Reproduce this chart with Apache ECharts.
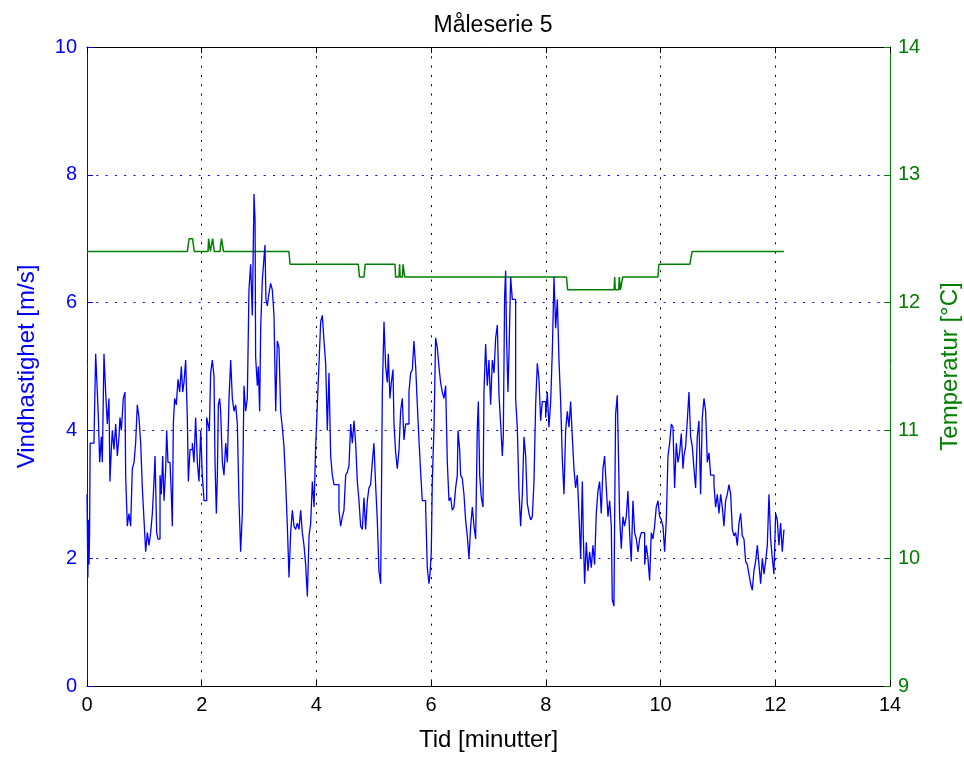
<!DOCTYPE html>
<html>
<head>
<meta charset="utf-8">
<script src="https://cdn.jsdelivr.net/npm/echarts@6/dist/echarts.min.js"></script>
<style>
html,body{margin:0;padding:0;background:#fff;}
#chart{width:964px;height:757px;}
</style>
</head>
<body>
<div id="chart"></div>
<script>
const titleText = "Måleserie 5";
const xName = "Tid [minutter]";
const leftName = "Vindhastighet [m/s]";
const rightName = "Temperatur [°C]";
const xTicks = [0, 14, 2];
const leftTicks = [0, 10, 2];
const rightTicks = [9, 14, 1];

// Wind speed [minutes, m/s]
const windSpeed = [
[0.00,3.0],[0.015,1.7],[0.025,2.6],[0.035,1.9],[0.045,2.4],[0.055,3.8],[0.064,3.8],[0.122,3.85],[0.151,5.2],[0.18,4.6],[0.198,4.2],[0.221,3.5],[0.25,3.9],[0.267,3.5],[0.296,5.2],[0.325,4.6],[0.354,4.1],[0.383,4.5],[0.40,3.2],[0.424,3.7],[0.442,4.0],[0.47,3.7],[0.50,4.1],[0.529,3.6],[0.558,3.9],[0.575,4.2],[0.599,4.0],[0.633,4.5],[0.662,4.6],[0.674,3.3],[0.703,2.5],[0.732,2.7],[0.761,2.5],[0.79,3.4],[0.82,3.5],[0.848,3.8],[0.877,4.4],[0.906,4.2],[0.936,3.8],[0.965,3.1],[0.994,2.6],[1.023,2.1],[1.052,2.4],[1.081,2.2],[1.11,2.4],[1.139,2.7],[1.168,3.2],[1.186,3.6],[1.215,2.4],[1.238,2.3],[1.273,3.3],[1.296,3.0],[1.319,3.6],[1.343,2.9],[1.372,3.4],[1.389,4.0],[1.412,3.5],[1.447,3.5],[1.47,3.0],[1.488,2.5],[1.505,4.1],[1.528,4.5],[1.557,4.4],[1.587,4.8],[1.616,4.6],[1.645,5.0],[1.668,4.6],[1.691,4.75],[1.72,5.1],[1.749,4.2],[1.767,3.2],[1.796,3.7],[1.836,3.8],[1.865,3.5],[1.894,4.2],[1.924,3.5],[1.953,3.2],[1.982,4.0],[2.01,3.3],
[2.04,2.9],[2.087,4.2],[2.11,4.1],[2.133,4.0],[2.156,4.9],[2.185,5.1],[2.214,4.85],[2.232,3.5],[2.255,2.7],[2.273,3.3],[2.29,4.4],[2.313,4.5],[2.33,4.3],[2.36,3.5],[2.388,3.3],[2.418,3.8],[2.447,3.5],[2.476,4.5],[2.505,5.1],[2.534,4.5],[2.563,4.3],[2.592,4.4],[2.621,4.1],[2.65,2.9],[2.679,2.1],[2.708,2.7],[2.737,4.7],[2.766,4.3],[2.795,4.5],[2.824,6.2],[2.853,6.6],[2.882,5.8],[2.912,7.7],[2.93,7.3],[2.94,5.15],[2.97,4.7],[2.987,5.0],[3.01,4.3],[3.028,5.6],[3.057,6.35],[3.086,6.7],[3.103,6.9],[3.12,6.05],[3.144,5.95],[3.173,6.15],[3.202,6.3],[3.231,6.2],[3.26,5.8],[3.29,4.3],[3.318,5.4],[3.347,5.3],[3.376,4.3],[3.405,4.05],[3.434,3.75],[3.463,3.2],[3.493,2.5],[3.522,1.7],[3.551,2.4],[3.58,2.75],[3.609,2.5],[3.638,2.45],[3.667,2.55],[3.696,2.45],[3.725,2.75],[3.754,2.4],[3.783,2.2],[3.812,1.9],[3.842,1.4],[3.871,2.35],[3.9,2.55],[3.929,3.2],[3.958,2.8],[3.987,3.75],[4.016,4.4],[4.045,5.05],[4.074,5.7],[4.103,5.8],
[4.132,5.4],[4.161,5.05],[4.19,4.0],[4.219,4.9],[4.248,3.6],[4.277,3.3],[4.306,3.15],[4.353,3.15],[4.393,2.75],[4.422,2.5],[4.452,2.65],[4.48,2.75],[4.51,3.3],[4.539,3.35],[4.568,3.45],[4.597,4.1],[4.626,3.8],[4.655,4.15],[4.684,3.8],[4.713,3.2],[4.742,2.9],[4.771,2.5],[4.8,2.45],[4.829,2.95],[4.858,2.45],[4.887,2.9],[4.916,3.1],[4.945,3.15],[4.974,3.5],[5.003,3.8],[5.032,3.15],[5.061,2.6],[5.09,1.8],[5.12,1.6],[5.149,4.6],[5.178,5.7],[5.207,5.0],[5.236,4.75],[5.253,5.2],[5.282,4.5],[5.306,4.75],[5.335,4.95],[5.352,4.1],[5.381,3.65],[5.41,3.4],[5.44,3.7],[5.468,4.3],[5.497,4.5],[5.526,3.85],[5.555,4.1],[5.584,4.1],[5.613,4.6],[5.643,4.9],[5.672,4.95],[5.70,5.4],[5.73,5.0],[5.759,4.4],[5.788,3.85],[5.817,3.35],[5.846,2.9],[5.875,2.9],[5.904,2.8],[5.933,1.85],[5.962,1.6],[5.98,1.75],[6.003,2.1],[6.02,3.2],[6.05,4.05],[6.078,5.45],[6.107,5.3],[6.136,5.0],[6.165,4.75],[6.194,4.6],
[6.224,4.5],[6.253,4.7],[6.282,3.5],[6.311,2.9],[6.34,2.95],[6.369,2.75],[6.398,2.8],[6.427,3.1],[6.456,3.3],[6.468,4.0],[6.497,3.7],[6.514,3.3],[6.543,3.25],[6.572,3.0],[6.601,2.6],[6.63,2.35],[6.66,2.0],[6.689,2.5],[6.718,2.8],[6.747,2.5],[6.776,2.3],[6.805,4.05],[6.823,4.45],[6.846,3.3],[6.875,2.95],[6.904,2.8],[6.921,4.6],[6.95,5.35],[6.979,4.7],[7.008,5.1],[7.037,4.4],[7.067,5.1],[7.096,4.9],[7.125,5.45],[7.154,5.65],[7.183,4.55],[7.212,4.1],[7.241,3.6],[7.258,3.9],[7.281,6.1],[7.299,6.5],[7.316,5.4],[7.339,4.6],[7.357,5.2],[7.386,6.4],[7.415,6.05],[7.444,6.05],[7.473,4.5],[7.502,4.05],[7.531,3.05],[7.56,2.5],[7.59,3.0],[7.619,3.9],[7.648,3.6],[7.677,2.85],[7.706,2.7],[7.735,2.6],[7.764,2.65],[7.793,3.2],[7.822,4.4],[7.851,5.05],[7.88,4.8],[7.909,4.15],[7.938,4.45],[7.967,4.45],[7.996,4.2],[8.025,4.6],[8.054,4.05],[8.084,4.45],[8.113,5.25],[8.142,6.4],[8.171,5.6],[8.20,6.05],[8.229,5.1],[8.258,4.45],[8.287,3.55],
[8.316,3.0],[8.345,4.0],[8.374,4.3],[8.403,4.05],[8.432,4.45],[8.461,3.9],[8.49,3.4],[8.519,3.1],[8.548,3.3],[8.577,2.7],[8.607,2.0],[8.636,3.2],[8.653,2.35],[8.676,1.6],[8.705,2.25],[8.734,1.8],[8.763,2.1],[8.792,1.85],[8.821,2.2],[8.85,1.9],[8.879,2.7],[8.908,3.05],[8.937,3.2],[8.966,2.7],[8.995,3.4],[9.024,3.6],[9.054,3.1],[9.083,2.65],[9.112,2.9],[9.141,2.5],[9.158,1.35],[9.187,1.25],[9.199,2.6],[9.216,4.25],[9.245,4.55],[9.263,3.75],[9.286,2.65],[9.315,2.15],[9.344,2.65],[9.373,2.5],[9.402,2.65],[9.431,3.05],[9.46,2.4],[9.489,1.95],[9.518,2.9],[9.548,2.4],[9.577,2.3],[9.606,2.1],[9.635,2.3],[9.664,2.4],[9.693,2.4],[9.722,1.9],[9.751,2.2],[9.78,2.0],[9.809,1.65],[9.838,2.4],[9.867,2.3],[9.896,2.5],[9.925,2.8],[9.955,2.9],[9.984,2.65],[10.013,2.6],[10.042,2.5],[10.071,2.1],[10.10,2.6],[10.129,3.6],[10.158,3.8],[10.187,4.1],[10.216,4.05],[10.245,3.1],[10.274,3.8],[10.303,3.5],[10.332,3.65],[10.361,3.95],[10.391,3.4],
[10.408,3.6],[10.437,3.75],[10.466,4.15],[10.495,4.6],[10.524,3.9],[10.553,3.75],[10.582,3.4],[10.611,3.1],[10.64,3.9],[10.669,4.15],[10.698,3.0],[10.727,4.2],[10.757,4.5],[10.786,4.3],[10.815,3.5],[10.844,3.65],[10.873,3.3],[10.902,3.3],[10.931,3.15],[10.96,2.8],[10.989,3.0],[11.018,2.7],[11.047,3.0],[11.076,2.8],[11.105,2.5],[11.134,2.9],[11.163,3.0],[11.192,3.15],[11.222,3.0],[11.251,2.45],[11.28,2.35],[11.309,2.4],[11.338,2.2],[11.367,2.55],[11.396,2.7],[11.425,2.35],[11.454,2.3],[11.483,1.95],[11.512,1.9],[11.541,1.75],[11.57,1.6],[11.599,1.5],[11.628,1.8],[11.657,1.95],[11.687,2.2],[11.716,1.9],[11.745,1.6],[11.774,2.0],[11.803,1.75],[11.832,1.95],[11.861,2.2],[11.89,3.0],[11.919,2.3],[11.948,2.0],[11.977,1.75],[12.006,2.7],[12.035,2.6],[12.064,2.2],[12.093,2.55],[12.122,2.1],[12.151,2.45]
];

// Temperature [minutes, °C]
const temperature = [
[0,12.4],[1.75,12.4],[1.78,12.5],[1.84,12.5],[1.87,12.4],
[2.11,12.4],[2.12,12.5],[2.14,12.5],[2.15,12.4],[2.18,12.4],[2.19,12.5],[2.21,12.5],[2.22,12.4],
[2.32,12.4],[2.33,12.45],[2.34,12.45],[2.345,12.5],[2.37,12.5],[2.38,12.4],
[3.52,12.4],[3.54,12.3],
[4.73,12.3],[4.75,12.2],[4.83,12.2],[4.85,12.3],
[5.37,12.3],[5.38,12.2],[5.44,12.2],[5.45,12.3],[5.46,12.2],[5.50,12.2],[5.51,12.3],[5.53,12.3],[5.54,12.2],
[8.36,12.2],[8.38,12.1],
[9.19,12.1],[9.20,12.2],[9.21,12.1],[9.27,12.1],[9.28,12.2],[9.30,12.1],[9.33,12.1],[9.34,12.2],
[9.955,12.2],[9.97,12.3],
[10.51,12.3],[10.55,12.4],
[12.15,12.4]
];

const BLUE = '#0000ff', GREEN = '#008000', BLACK = '#000000';
const FONT = '"Liberation Sans", Arial, sans-serif';
const chart = echarts.init(document.getElementById('chart'), null, {renderer:'canvas'});
const dotted = {type:[2,7.3], width:1};

chart.setOption({
  animation:false,
  backgroundColor:'#ffffff',
  title:{text:titleText, left:488, top:9, textAlign:'center',
    textStyle:{fontFamily:FONT, fontSize:23, fontWeight:'normal', color:BLACK}},
  grid:{left:87, right:74, top:47, bottom:71, containLabel:false, outerBoundsMode:'none'},
  xAxis:[{
    type:'value', min:xTicks[0], max:xTicks[1], interval:xTicks[2], position:'bottom',
    name:xName, nameLocation:'middle', nameGap:42,
    nameTextStyle:{fontFamily:FONT, fontSize:24, color:BLACK},
    axisLine:{show:true, onZero:false, lineStyle:{color:BLACK, width:1}},
    axisTick:{show:true, inside:true, length:6, lineStyle:{color:BLACK}},
    axisLabel:{fontFamily:FONT, fontSize:20, color:BLACK, margin:9},
    splitLine:{show:true, lineStyle:Object.assign({color:BLACK}, dotted)}
  },{
    type:'value', min:xTicks[0], max:xTicks[1], interval:xTicks[2], position:'top',
    axisLine:{show:true, onZero:false, lineStyle:{color:BLACK, width:1}},
    axisTick:{show:true, inside:true, length:6, lineStyle:{color:BLACK}},
    axisLabel:{show:false}, splitLine:{show:false}
  }],
  yAxis:[{
    type:'value', min:leftTicks[0], max:leftTicks[1], interval:leftTicks[2], position:'left',
    name:leftName, nameLocation:'middle', nameGap:48, nameRotate:90,
    nameTextStyle:{fontFamily:FONT, fontSize:24, color:BLUE},
    axisLine:{show:true, onZero:false, lineStyle:{color:BLUE, width:1}},
    axisTick:{show:true, inside:true, length:6, lineStyle:{color:BLUE}},
    axisLabel:{fontFamily:FONT, fontSize:20, color:BLUE, margin:10},
    splitLine:{show:true, lineStyle:Object.assign({color:BLUE}, dotted)}
  },{
    type:'value', min:rightTicks[0], max:rightTicks[1], interval:rightTicks[2], position:'right',
    name:rightName, nameLocation:'middle', nameGap:48, nameRotate:90,
    nameTextStyle:{fontFamily:FONT, fontSize:24, color:GREEN},
    axisLine:{show:true, onZero:false, lineStyle:{color:GREEN, width:1}},
    axisTick:{show:true, inside:true, length:6, lineStyle:{color:GREEN}},
    axisLabel:{fontFamily:FONT, fontSize:20, color:GREEN, margin:8},
    splitLine:{show:false}
  }],
  series:[{
    name:'Temperatur', type:'line', xAxisIndex:0, yAxisIndex:1, data:temperature,
    showSymbol:false, symbol:'none', z:2,
    lineStyle:{color:GREEN, width:1.5}
  },{
    name:'Vindhastighet', type:'line', xAxisIndex:0, yAxisIndex:0, data:windSpeed,
    showSymbol:false, symbol:'none', z:3, step:'end',
    lineStyle:{color:BLUE, width:1.3}
  }]
});
</script>
</body>
</html>
